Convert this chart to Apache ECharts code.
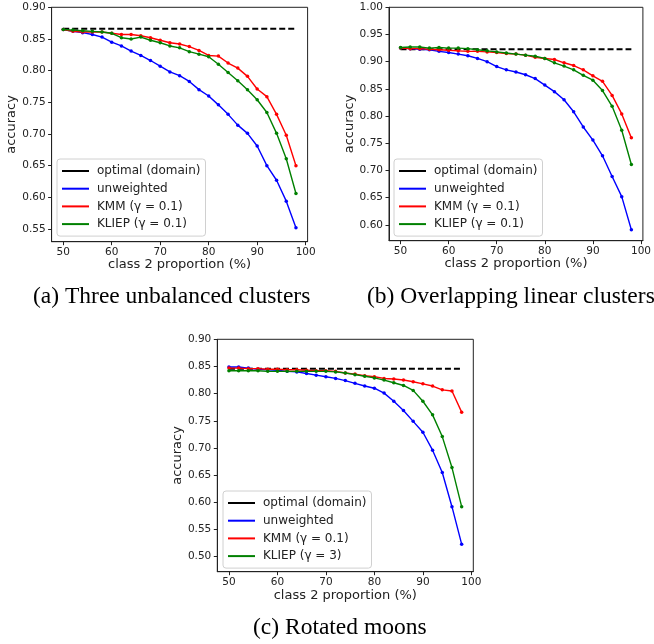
<!DOCTYPE html>
<html>
<head>
<meta charset="utf-8">
<script src="https://cdn.jsdelivr.net/npm/echarts@6/dist/echarts.min.js"></script>
<style>html,body{margin:0;padding:0;background:#fff}#c{width:654px;height:644px}</style>
</head>
<body>
<div id="c"></div>
<script>
// ---- data ----
var xs = [50,52,54,56,58,60,62,64,66,68,70,72,74,76,78,80,82,84,86,88,90,92,94,96,98];
var xTicks = [50,60,70,80,90,100];

var captions = ['(a) Three unbalanced clusters', '(b) Overlapping linear clusters', '(c) Rotated moons'];
var seriesNames = ['optimal (domain)', 'unweighted', 'KMM (γ = 0.1)', 'KLIEP (γ = 0.1)'];
var seriesNamesC = ['optimal (domain)', 'unweighted', 'KMM (γ = 0.1)', 'KLIEP (γ = 3)'];

// (a) Three unbalanced clusters
var optimalA = 0.866;
var unweightedA = [0.865,0.862,0.860,0.857,0.853,0.845,0.839,0.831,0.824,0.816,0.807,0.798,0.792,0.783,0.770,0.760,0.746,0.731,0.714,0.701,0.681,0.650,0.627,0.594,0.552];
var kmmA = [0.865,0.862,0.861,0.861,0.861,0.859,0.857,0.857,0.855,0.852,0.848,0.844,0.842,0.838,0.832,0.824,0.823,0.812,0.804,0.791,0.771,0.759,0.731,0.698,0.650];
var kliepA = [0.865,0.864,0.863,0.862,0.861,0.859,0.852,0.850,0.853,0.848,0.844,0.839,0.836,0.830,0.826,0.822,0.810,0.797,0.784,0.770,0.754,0.734,0.701,0.661,0.606];
var yTicksA = [0.55,0.60,0.65,0.70,0.75,0.80,0.85,0.90];

// (b) Overlapping linear clusters
var optimalB = 0.923;
var unweightedB = [0.925,0.924,0.923,0.922,0.919,0.917,0.914,0.911,0.906,0.900,0.891,0.885,0.881,0.876,0.869,0.857,0.845,0.830,0.808,0.780,0.756,0.727,0.689,0.652,0.591];
var kmmB = [0.925,0.924,0.924,0.923,0.922,0.921,0.920,0.919,0.919,0.918,0.917,0.915,0.914,0.912,0.908,0.906,0.904,0.898,0.893,0.885,0.874,0.864,0.838,0.804,0.760];
var kliepB = [0.926,0.927,0.927,0.925,0.926,0.925,0.925,0.924,0.922,0.920,0.918,0.916,0.914,0.912,0.910,0.906,0.898,0.892,0.885,0.875,0.866,0.847,0.818,0.774,0.711];
var yTicksB = [0.60,0.65,0.70,0.75,0.80,0.85,0.90,0.95,1.00];

// (c) Rotated moons
var optimalC = 0.846;
var unweightedC = [0.849,0.849,0.847,0.845,0.844,0.843,0.841,0.840,0.837,0.834,0.831,0.828,0.824,0.819,0.814,0.810,0.801,0.786,0.769,0.749,0.729,0.696,0.655,0.592,0.523];
var kmmC = [0.847,0.847,0.846,0.846,0.845,0.845,0.844,0.844,0.843,0.842,0.842,0.841,0.838,0.836,0.833,0.831,0.828,0.827,0.825,0.822,0.818,0.814,0.807,0.805,0.766];
var kliepC = [0.842,0.842,0.842,0.842,0.841,0.841,0.841,0.841,0.841,0.841,0.841,0.840,0.838,0.835,0.832,0.829,0.825,0.820,0.815,0.806,0.786,0.761,0.721,0.664,0.592];
var yTicksC = [0.50,0.55,0.60,0.65,0.70,0.75,0.80,0.85,0.90];

// ---- build ----
function pairs(vals){ return xs.map(function(x,i){ return [x, vals[i]]; }); }
function flat(v){ return [[xs[0], v], [xs[xs.length-1], v]]; }

var panels = [
  {grid:{left:51.6, top:7.3, width:256, height:234.4}, ymin:0.530, ymax:0.90, yt:yTicksA,
   opt:optimalA, u:unweightedA, k:kmmA, l:kliepA, names:seriesNames, legend:{left:57, top:159}, xGap:16.5},
  {grid:{left:389, top:7.3, width:256, height:233.4}, ymin:0.571, ymax:1.00, yt:yTicksB,
   opt:optimalB, u:unweightedB, k:kmmB, l:kliepB, names:seriesNames, legend:{left:394, top:159}, xGap:16.5},
  {grid:{left:217.3, top:339.3, width:256, height:232.4}, ymin:0.4724, ymax:0.90, yt:yTicksC,
   opt:optimalC, u:unweightedC, k:kmmC, l:kliepC, names:seriesNamesC, legend:{left:223, top:491}, xGap:17.5}
];

var axisColor = '#222';
var grids = [], xAxes = [], yAxes = [], series = [], legends = [];
panels.forEach(function(p, i){
  grids.push(Object.assign({show:true, borderColor:axisColor, borderWidth:1, backgroundColor:'transparent'}, p.grid));
  xAxes.push({
    gridIndex:i, type:'value', min:47.6, max:100.4,
    axisLine:{show:true, onZero:false, lineStyle:{color:axisColor, width:1}},
    axisTick:{show:true, length:3.5, customValues:xTicks, lineStyle:{color:axisColor}},
    axisLabel:{customValues:xTicks, margin:5, fontSize:10.5, color:'#222', fontFamily:'DejaVu Sans'},
    splitLine:{show:false},
    name:'class 2 proportion (%)', nameLocation:'middle', nameGap:p.xGap,
    nameTextStyle:{fontSize:13, color:'#222', fontFamily:'DejaVu Sans'}
  });
  yAxes.push({
    gridIndex:i, type:'value', min:p.ymin, max:p.ymax,
    axisLine:{show:true, onZero:false, lineStyle:{color:axisColor, width:1}},
    axisTick:{show:true, length:3.5, customValues:p.yt, lineStyle:{color:axisColor}},
    axisLabel:{customValues:p.yt, margin:6, fontSize:10.5, color:'#222', fontFamily:'DejaVu Sans',
      formatter:function(v){ return Number(v).toFixed(2); }},
    splitLine:{show:false},
    name:'accuracy', nameLocation:'middle', nameGap:33,
    nameTextStyle:{fontSize:13, color:'#222', fontFamily:'DejaVu Sans'}
  });
  series.push({name:p.names[0], type:'line', xAxisIndex:i, yAxisIndex:i, data:flat(p.opt),
    showSymbol:false, symbol:'none', lineStyle:{color:'#000', width:2, type:[6,3]}, itemStyle:{color:'#000'}, z:2});
  var cols = ['#0000ff', '#ff0000', '#008000'];
  [p.u, p.k, p.l].forEach(function(vals, j){
    series.push({name:p.names[j+1], type:'line', xAxisIndex:i, yAxisIndex:i, data:pairs(vals),
      symbol:'circle', symbolSize:3.5, showSymbol:true,
      lineStyle:{color:cols[j], width:1.4}, itemStyle:{color:cols[j]}, z:3+j});
  });
  legends.push({
    left:p.legend.left, top:p.legend.top, orient:'vertical', data:p.names,
    icon:'rect', itemWidth:27, itemHeight:2, itemGap:3.7,
    padding:[5,5,5,5], backgroundColor:'rgba(255,255,255,0.85)', borderColor:'#d0d0d0', borderWidth:1, borderRadius:3,
    textStyle:{fontSize:12, lineHeight:14, color:'#222', fontFamily:'DejaVu Sans', padding:[0,0,0,3]},
    selectedMode:false
  });
});

var titleStyle = {fontFamily:'Liberation Serif', fontSize:23.5, fontWeight:'normal', color:'#000', lineHeight:24};
var titles = [
  {text:captions[0], left:33, top:285, padding:0, textStyle:titleStyle},
  {text:captions[1], left:367, top:285, padding:0, textStyle:titleStyle},
  {text:captions[2], left:253, top:616, padding:0, textStyle:titleStyle}
];

var chart = echarts.init(document.getElementById('c'), null, {renderer:'canvas'});
chart.setOption({
  animation:false,
  backgroundColor:'#fff',
  title:titles,
  grid:grids, xAxis:xAxes, yAxis:yAxes, legend:legends, series:series
});
</script>
</body>
</html>
